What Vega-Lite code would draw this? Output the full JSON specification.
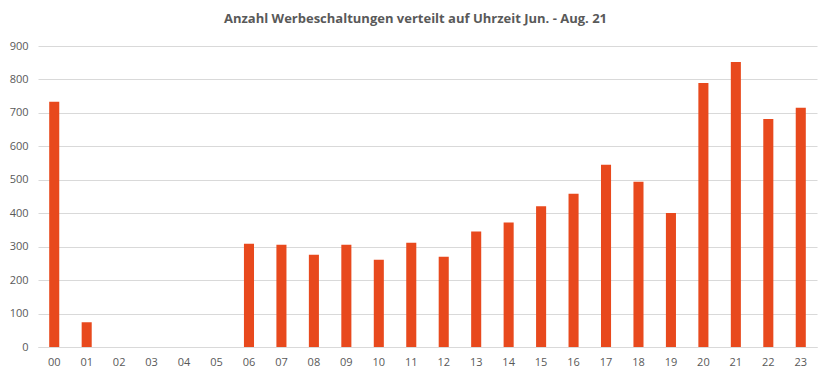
{
  "$schema": "https://vega.github.io/schema/vega-lite/v6.json",
  "autosize": "none",
  "width": 779,
  "height": 301,
  "padding": {"left": 38, "top": 46, "right": 15, "bottom": 32},
  "background": "white",
  "title": {
    "text": "Anzahl Werbeschaltungen verteilt auf Uhrzeit Jun. - Aug. 21",
    "font": "Open Sans",
    "fontSize": 13,
    "fontWeight": "bold",
    "color": "#595959",
    "anchor": "middle",
    "offset": 14,
    "dx": -12
  },
  "config": {
    "view": {"stroke": null},
    "axis": {"labelFont": "Open Sans", "labelFontSize": 11, "labelColor": "#595959", "ticks": false, "title": null}
  },
  "data": {
    "values": [
      {"hour": "00", "count": 733},
      {"hour": "01", "count": 74},
      {"hour": "02", "count": 0},
      {"hour": "03", "count": 0},
      {"hour": "04", "count": 0},
      {"hour": "05", "count": 0},
      {"hour": "06", "count": 309},
      {"hour": "07", "count": 306},
      {"hour": "08", "count": 276},
      {"hour": "09", "count": 306},
      {"hour": "10", "count": 261},
      {"hour": "11", "count": 312},
      {"hour": "12", "count": 270},
      {"hour": "13", "count": 345},
      {"hour": "14", "count": 372},
      {"hour": "15", "count": 421},
      {"hour": "16", "count": 458},
      {"hour": "17", "count": 545},
      {"hour": "18", "count": 494},
      {"hour": "19", "count": 401},
      {"hour": "20", "count": 789},
      {"hour": "21", "count": 852},
      {"hour": "22", "count": 682},
      {"hour": "23", "count": 715}
    ]
  },
  "mark": {"type": "bar", "color": "#E8491D"},
  "encoding": {
    "x": {
      "field": "hour",
      "type": "nominal",
      "sort": null,
      "scale": {"paddingInner": 0.69, "paddingOuter": 0.345},
      "axis": {"labelAngle": 0, "domainColor": "#d9d9d9", "labelPadding": 9, "grid": false}
    },
    "y": {
      "field": "count",
      "type": "quantitative",
      "scale": {"domain": [0, 900], "nice": false},
      "axis": {"values": [0,100,200,300,400,500,600,700,800,900], "domain": false, "gridColor": "#d9d9d9", "labelPadding": 10}
    }
  }
}
